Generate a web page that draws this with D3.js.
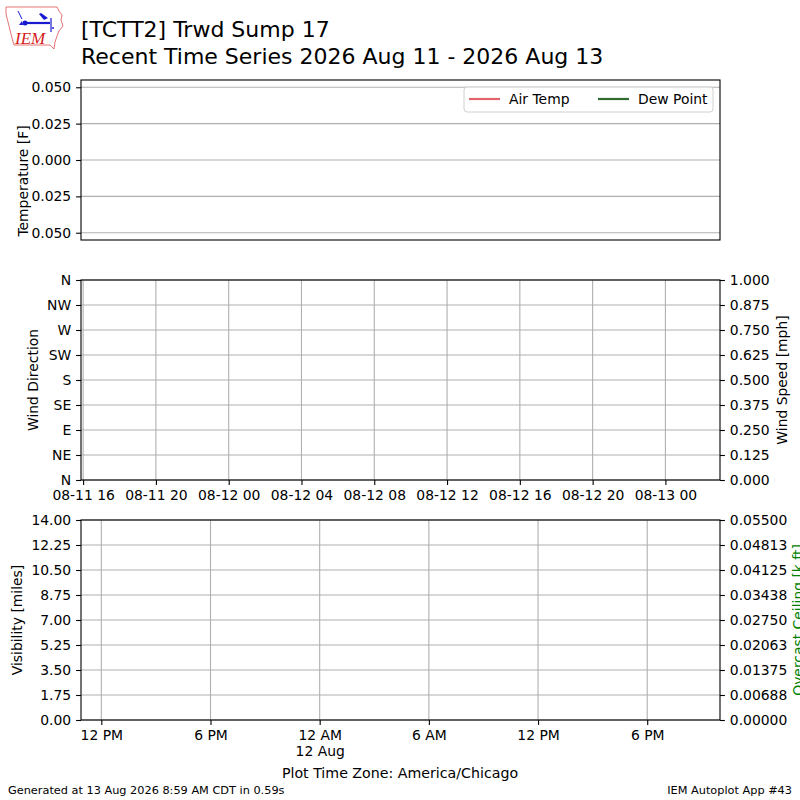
<!DOCTYPE html>
<html lang="en">
<head>
  <title>TCTT2 Recent Time Series</title>
  <meta charset="utf-8"/>
  <script src="https://d3js.org/d3.v7.min.js"></script>
  <style>
    body { margin: 0; background: #fff; }
    text { font-family: "DejaVu Sans", sans-serif; fill: #000; }
    .tick text { font-size: 13.9px; }
    .lbl { font-size: 13.9px; }
  </style>
</head>
<body>
<svg id="chart" width="800" height="800"></svg>

<script type="text/javascript">
  // time window (UTC) and observations -- the station reported nothing
  const timeStart = new Date(Date.UTC(2026, 7, 11, 15, 53));
  const timeEnd = new Date(Date.UTC(2026, 7, 13, 3, 0));
  const obsTimes = [];
  const airTemp = [];
  const dewPoint = [];
  const windDir = [];
  const windSpeed = [];
  const visibility = [];
  const ceiling = [];

  // tick values and labels
  const tempTicks = [0.05, 0.025, 0, -0.025, -0.05];
  const tempTickLabels = ["0.050", "0.025", "0.000", "0.025", "0.050"];
  const dirTicks = [0, 45, 90, 135, 180, 225, 270, 315, 360];
  const dirTickLabels = ["N", "NE", "E", "SE", "S", "SW", "W", "NW", "N"];
  const speedTicks = [0, 0.125, 0.25, 0.375, 0.5, 0.625, 0.75, 0.875, 1.0];
  const visTicks = [0, 1.75, 3.5, 5.25, 7, 8.75, 10.5, 12.25, 14];
  const ceilTicks = [0, 0.006875, 0.01375, 0.020625, 0.0275, 0.034375, 0.04125, 0.048125, 0.055];
  const ceilTickLabels = ["0.00000", "0.00688", "0.01375", "0.02063", "0.02750",
                          "0.03438", "0.04125", "0.04813", "0.05500"];
  const legendNames = ["Air Temp", "Dew Point"];
  const legendColors = ["#e0636d", "#2f6b2f"];
  const localOffsetHours = -5;  // America/Chicago (CDT)

  const svg = d3.select("#chart");
  const left = 81, right = 720;
  const gridColor = "#b0b0b0";

  // ---- header ----
  const logo = svg.append("g");
  logo.append("path")
      .attr("d", "M6,7 L57,7 L59,11 L62,15 L61,20 L63,26 L59,31 L57,36 L55,42 L54,49 L50,45 L14,45 L12,38 L10,30 L8,22 L6,14 Z")
      .attr("fill", "none").attr("stroke", "#e05050").attr("stroke-width", 0.8);
  logo.append("line").attr("x1", 24).attr("y1", 23).attr("x2", 50).attr("y2", 23)
      .attr("stroke", "#1a1ad0").attr("stroke-width", 2.2);
  logo.append("circle").attr("cx", 25).attr("cy", 23).attr("r", 2.5).attr("fill", "#1a1ad0");
  logo.append("path").attr("d", "M19,25 L22,21 L23,25 Z").attr("fill", "#1a1ad0");
  logo.append("line").attr("x1", 18).attr("y1", 11).attr("x2", 22).attr("y2", 19)
      .attr("stroke", "#1a1ad0").attr("stroke-width", 1);
  logo.append("path").attr("d", "M39,14 L41,13 L48,18 L44,20 Z").attr("fill", "#1a1ad0");
  logo.append("line").attr("x1", 51).attr("y1", 18).attr("x2", 51).attr("y2", 32)
      .attr("stroke", "#1a1ad0").attr("stroke-width", 1.2);
  logo.append("circle").attr("cx", 53).attr("cy", 28).attr("r", 1).attr("fill", "#1a1ad0");
  logo.append("text").attr("x", 15).attr("y", 44)
      .style("font-family", "'Liberation Serif', serif").style("font-style", "italic")
      .style("font-size", "17px").style("fill", "#d42020")
      .text("IEM");

  svg.append("text").attr("x", left).attr("y", 37).style("font-size", "22px")
      .text("[TCTT2] Trwd Sump 17");
  svg.append("text").attr("x", left).attr("y", 64).style("font-size", "22px")
      .text("Recent Time Series 2026 Aug 11 - 2026 Aug 13");

  // ---- scales ----
  const xUtc = d3.scaleUtc().domain([timeStart, timeEnd]).range([left, right]);
  const shift = d => new Date(d.getTime() + localOffsetHours * 3600e3);
  const xLocal = d3.scaleUtc().domain([shift(timeStart), shift(timeEnd)]).range([left, right]);

  function styleAxis(g) {
    g.select(".domain").remove();
    g.selectAll(".tick line").attr("stroke", "#000").attr("stroke-width", 1.1);
    g.selectAll(".tick text").attr("fill", "#000");
  }

  function frame(top, bottom) {
    svg.append("rect").attr("x", left).attr("y", top)
        .attr("width", right - left).attr("height", bottom - top)
        .attr("fill", "none").attr("stroke", "#000").attr("stroke-width", 1.1);
  }

  function hGrid(scale, ticks) {
    svg.append("g").selectAll("line").data(ticks).join("line")
        .attr("x1", left).attr("x2", right)
        .attr("y1", d => scale(d)).attr("y2", d => scale(d))
        .attr("stroke", gridColor).attr("stroke-width", 1.1);
  }

  function vGrid(scale, ticks, top, bottom) {
    svg.append("g").selectAll("line").data(ticks).join("line")
        .attr("x1", d => scale(d)).attr("x2", d => scale(d))
        .attr("y1", top).attr("y2", bottom)
        .attr("stroke", gridColor).attr("stroke-width", 1.1);
  }

  function yLabel(txt, x, y, color) {
    svg.append("text").attr("class", "lbl")
        .attr("transform", `translate(${x},${y}) rotate(-90)`)
        .attr("text-anchor", "middle")
        .style("fill", color || "#000")
        .text(txt);
  }

  // ---- panel 1: temperatures ----
  const t1 = 80, b1 = 240;
  const yTemp = d3.scaleLinear().domain([-0.055, 0.055]).range([b1, t1]);
  hGrid(yTemp, tempTicks);
  const tempLine = d3.line().x((d, i) => xUtc(obsTimes[i])).y(d => yTemp(d));
  svg.append("path").datum(airTemp).attr("d", tempLine).attr("fill", "none")
      .attr("stroke", legendColors[0]).attr("stroke-width", 2);
  svg.append("path").datum(dewPoint).attr("d", tempLine).attr("fill", "none")
      .attr("stroke", legendColors[1]).attr("stroke-width", 2);
  svg.append("g").attr("transform", `translate(${left},0)`)
      .call(d3.axisLeft(yTemp).tickValues(tempTicks)
          .tickFormat((d, i) => tempTickLabels[i]).tickSize(4.9).tickPadding(4.9))
      .call(styleAxis);
  frame(t1, b1);
  yLabel("Temperature [F]", 28, 181);

  // legend
  const leg = svg.append("g").attr("transform", "translate(464,87)");
  leg.append("rect").attr("width", 249).attr("height", 25).attr("rx", 3)
      .attr("fill", "#fff").attr("fill-opacity", 0.8)
      .attr("stroke", "#d0d0d0").attr("stroke-width", 1);
  legendNames.forEach((name, i) => {
    const gx = 5 + i * 129;
    leg.append("line").attr("x1", gx).attr("x2", gx + 31).attr("y1", 12).attr("y2", 12)
        .attr("stroke", legendColors[i]).attr("stroke-width", 2.2);
    leg.append("text").attr("class", "lbl").attr("x", gx + 40).attr("y", 17).text(name);
  });

  // ---- panel 2: wind ----
  const t2 = 280, b2 = 480;
  const yDir = d3.scaleLinear().domain([0, 360]).range([b2, t2]);
  const ySpeed = d3.scaleLinear().domain([0, 1]).range([b2, t2]);
  const utcTicks = xUtc.ticks(d3.utcHour.every(4));
  hGrid(yDir, dirTicks);
  vGrid(xUtc, utcTicks, t2, b2);
  svg.append("g").selectAll("circle").data(windDir).join("circle")
      .attr("cx", (d, i) => xUtc(obsTimes[i])).attr("cy", d => yDir(d)).attr("r", 2);
  svg.append("path").datum(windSpeed)
      .attr("d", d3.line().x((d, i) => xUtc(obsTimes[i])).y(d => ySpeed(d)))
      .attr("fill", "none").attr("stroke", "#000");
  svg.append("g").attr("transform", `translate(${left},0)`)
      .call(d3.axisLeft(yDir).tickValues(dirTicks)
          .tickFormat((d, i) => dirTickLabels[i]).tickSize(4.9).tickPadding(4.9))
      .call(styleAxis);
  svg.append("g").attr("transform", `translate(${right},0)`)
      .call(d3.axisRight(ySpeed).tickValues(speedTicks)
          .tickFormat(d3.format(".3f")).tickSize(4.9).tickPadding(4.9))
      .call(styleAxis);
  svg.append("g").attr("transform", `translate(0,${b2})`)
      .call(d3.axisBottom(xUtc).tickValues(utcTicks)
          .tickFormat(d3.utcFormat("%m-%d %H")).tickSize(4.9).tickPadding(4.9))
      .call(styleAxis);
  frame(t2, b2);
  yLabel("Wind Direction", 38, 380);
  yLabel("Wind Speed [mph]", 787, 380);

  // ---- panel 3: visibility / ceiling ----
  const t3 = 520, b3 = 720;
  const yVis = d3.scaleLinear().domain([0, 14]).range([b3, t3]);
  const yCeil = d3.scaleLinear().domain([0, 0.055]).range([b3, t3]);
  const localTicks = xLocal.ticks(d3.utcHour.every(6));
  hGrid(yVis, visTicks);
  vGrid(xLocal, localTicks, t3, b3);
  svg.append("path").datum(visibility)
      .attr("d", d3.line().x((d, i) => xUtc(obsTimes[i])).y(d => yVis(d)))
      .attr("fill", "none").attr("stroke", "#000");
  svg.append("path").datum(ceiling)
      .attr("d", d3.line().x((d, i) => xUtc(obsTimes[i])).y(d => yCeil(d)))
      .attr("fill", "none").attr("stroke", "green");
  svg.append("g").attr("transform", `translate(${left},0)`)
      .call(d3.axisLeft(yVis).tickValues(visTicks)
          .tickFormat(d3.format(".2f")).tickSize(4.9).tickPadding(4.9))
      .call(styleAxis);
  svg.append("g").attr("transform", `translate(${right},0)`)
      .call(d3.axisRight(yCeil).tickValues(ceilTicks)
          .tickFormat((d, i) => ceilTickLabels[i]).tickSize(4.9).tickPadding(4.9))
      .call(styleAxis);
  const hourFmt = d3.utcFormat("%-I %p");
  const dayFmt = d3.utcFormat("%-d %b");
  const xAx3 = svg.append("g").attr("transform", `translate(0,${b3})`)
      .call(d3.axisBottom(xLocal).tickValues(localTicks)
          .tickFormat(hourFmt).tickSize(4.9).tickPadding(4.9))
      .call(styleAxis);
  xAx3.selectAll(".tick text").each(function (d) {
    if (d.getUTCHours() === 0) {
      d3.select(this).append("tspan").attr("x", 0).attr("dy", "1.2em").text(dayFmt(d));
    }
  });
  frame(t3, b3);
  yLabel("Visibility [miles]", 22, 620);
  // the reference clips this label at the right edge of the figure
  yLabel("Overcast Ceiling [k ft]", 803, 620, "green");

  // ---- footer ----
  svg.append("text").attr("x", 400).attr("y", 778).style("font-size", "14.2px")
      .attr("text-anchor", "middle").text("Plot Time Zone: America/Chicago");
  svg.append("text").attr("x", 8).attr("y", 794).style("font-size", "11.3px")
      .text("Generated at 13 Aug 2026 8:59 AM CDT in 0.59s");
  svg.append("text").attr("x", 792).attr("y", 794).attr("text-anchor", "end")
      .style("font-size", "11.3px").text("IEM Autoplot App #43");
</script>
</body>
</html>
